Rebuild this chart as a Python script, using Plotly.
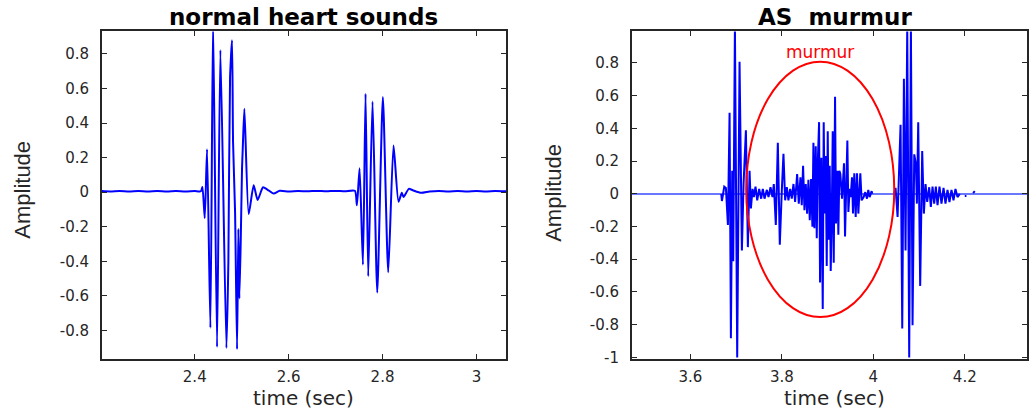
import plotly.graph_objects as go

# ---------------- data ----------------
# normal heart sounds: time (s) and amplitude
normal_t = [2.202, 2.22, 2.24, 2.26, 2.28, 2.30, 2.32, 2.34, 2.36, 2.38, 2.40, 2.413,
            2.4163, 2.4213, 2.4262, 2.4333, 2.4390, 2.4475, 2.4546, 2.4674, 2.4716, 2.4752,
            2.4794, 2.4816, 2.4858, 2.4901, 2.4929, 2.4950, 2.4979, 2.5007, 2.5021, 2.5057,
            2.5149, 2.5255, 2.5340, 2.5454, 2.5546, 2.5681, 2.5809,
            2.60, 2.62, 2.64, 2.66, 2.68, 2.70, 2.72, 2.7411,
            2.7454, 2.7511, 2.7582, 2.7638, 2.7695, 2.7787, 2.7887, 2.8007, 2.8121, 2.8234,
            2.8340, 2.8411, 2.8447, 2.8560, 2.8645, 2.8823,
            2.90, 2.92, 2.94, 2.96, 2.98, 3.00, 3.02, 3.04, 3.063]
normal_a = [0.006, 0.004, 0.007, 0.004, 0.007, 0.004, 0.007, 0.004, 0.006, 0.004, 0.006, 0.005,
            0.030, -0.151, 0.248, -0.785, 1.0, -0.896, 0.823, -0.902, -0.401, 0.664,
            0.879, 0.289, -0.108, -0.908, -0.212, -0.615, -0.287, 0.138, 0.242, 0.482,
            -0.127, 0.040, -0.045, 0.028, 0.015, -0.008, 0.008,
            0.004, 0.007, 0.005, 0.007, 0.005, 0.007, 0.005, 0.008,
            -0.076, 0.138, -0.420, 0.569, -0.486, 0.524, -0.581, 0.550, -0.463, 0.270,
            -0.055, -0.004, -0.028, 0.019, 0.011, -0.004,
            0.004, 0.007, 0.004, 0.007, 0.004, 0.007, 0.004, 0.007, 0.005]

# AS murmur: time (s) and amplitude (None = gap, signal at rest)
as_t = [3.6676, 3.6691, 3.6742, 3.6778, 3.6822, 3.6858, 3.6887, 3.6916, 3.6938, 3.6975,
        3.7025, 3.7047, 3.7076, 3.7127, 3.7164, 3.7215, 3.7258, 3.7295, 3.7324, 3.7360,
        3.7389, 3.7425, 3.7462, 3.7505, 3.7549, 3.7585, 3.7622, 3.7673, 3.7709, 3.7753,
        3.7796, 3.7825, 3.7869, 3.7913, 3.7956, 3.8000, 3.8036, 3.8073, 3.8109, 3.8145,
        3.8182, 3.8218, 3.8255, 3.8291, 3.8335, 3.8371, 3.8407, 3.8436, 3.8465, 3.8495,
        3.8524, 3.8553, 3.8582, 3.8611, 3.8640, 3.8669, 3.8691, 3.8713, 3.8742, 3.8764,
        3.8785, 3.8815, 3.8836, 3.8865, 3.8895, 3.8916, 3.8938, 3.8960, 3.8982, 3.9004,
        3.9025, 3.9047, 3.9069, 3.9091, 3.9113, 3.9135, 3.9164, 3.9185, 3.9215, 3.9236,
        3.9258, 3.9280, 3.9316, 3.9360, 3.9382, 3.9411, 3.9433, 3.9455, 3.9484, 3.9505,
        3.9535, 3.9556, 3.9585, 3.9615, 3.9644, 3.9673, 3.9716, 3.9745, 3.9789, 3.9825,
        3.9862, 3.9891, 3.9920, 3.9964, 3.9978, None,
        4.0458, 4.0487, 4.0531, 4.0596, 4.0633, 4.0669, 4.0705, 4.0742, 4.0785, 4.0822,
        4.0858, 4.0895, 4.0931, 4.0953, 4.0982, 4.1025, 4.1069, 4.1105, 4.1142, 4.1178,
        4.1222, 4.1258, 4.1295, 4.1331, 4.1367, 4.1404, 4.1447, 4.1491, 4.1535, 4.1578,
        4.1622, 4.1665, 4.1709, 4.1753, 4.1796, 4.1840, 4.1891, None,
        4.2000, 4.2036, None, 4.2182, 4.2218]
as_a = [0.0, -0.044, 0.044, 0.036, -0.191, 0.496, -0.884, 0.141, -0.412, 1.025,
        -1.001, -0.221, 0.808, -0.346, 0.060, 0.388, -0.326, 0.141, -0.090, 0.030,
        -0.020, 0.044, -0.040, 0.030, -0.030, 0.030, -0.030, 0.024, -0.020, 0.040,
        -0.020, 0.060, -0.191, 0.312, -0.312, 0.020, 0.245, -0.040, 0.040, -0.040,
        0.030, -0.030, 0.060, -0.050, 0.121, -0.060, 0.101, -0.070, 0.171, -0.101,
        0.060, -0.121, 0.086, -0.161, 0.090, -0.201, 0.312, -0.211, 0.291, -0.271,
        0.181, 0.438, -0.543, 0.221, -0.704, 0.438, -0.121, 0.231, -0.442, 0.382,
        -0.281, 0.171, -0.472, -0.161, 0.382, -0.422, 0.593, -0.181, 0.141, -0.251,
        0.141, 0.121, -0.030, 0.187, -0.261, 0.080, 0.326, -0.111, 0.030, -0.020,
        0.101, -0.121, 0.125, -0.141, 0.125, -0.121, 0.125, -0.040, -0.020, 0.010,
        -0.030, 0.024, -0.020, 0.016, 0.0, None,
        0.0, 0.036, -0.141, 0.422, -0.824, 0.704, -0.346, 1.025, -1.001, 1.025,
        -0.804, 0.241, 0.181, -0.060, 0.438, -0.563, 0.261, -0.121, 0.060, -0.050,
        0.040, -0.080, 0.044, -0.060, 0.044, -0.070, 0.044, -0.060, 0.036, -0.060,
        0.024, -0.050, 0.024, -0.040, 0.030, -0.020, 0.0, None,
        -0.014, -0.014, None, 0.004, 0.016]

# axis ticks
left_xticks = [2.4, 2.6, 2.8, 3.0]
left_xlabels = ["2.4", "2.6", "2.8", "3"]
left_yticks = [-0.8, -0.6, -0.4, -0.2, 0, 0.2, 0.4, 0.6, 0.8]
left_ylabels = ["-0.8", "-0.6", "-0.4", "-0.2", "0", "0.2", "0.4", "0.6", "0.8"]
right_xticks = [3.6, 3.8, 4.0, 4.2]
right_xlabels = ["3.6", "3.8", "4", "4.2"]
right_yticks = [-1, -0.8, -0.6, -0.4, -0.2, 0, 0.2, 0.4, 0.6, 0.8]
right_ylabels = ["-1", "-0.8", "-0.6", "-0.4", "-0.2", "0", "0.2", "0.4", "0.6", "0.8"]

titles = ["normal heart sounds", "AS\u00a0\u00a0murmur"]
murmur_label = "murmur"

# ---------------- figure ----------------
W, H = 1029, 417
BLUE = "#0000ff"
AX = "#262626"
TICKFONT = dict(family="DejaVu Sans", size=15, color=AX)

fig = go.Figure()
fig.add_trace(go.Scatter(x=normal_t, y=normal_a, mode="lines",
                         line=dict(color=BLUE, width=2, shape="spline", smoothing=0.6),
                         xaxis="x", yaxis="y", showlegend=False, hoverinfo="skip"))
fig.add_trace(go.Scatter(x=as_t, y=as_a, mode="lines",
                         line=dict(color=BLUE, width=2),
                         xaxis="x2", yaxis="y2", showlegend=False, hoverinfo="skip",
                         connectgaps=False))

ydom = [(H - 366) / H, (H - 32) / H]
common = dict(showline=True, linecolor=AX, linewidth=1.5, mirror="allticks",
              ticks="inside", ticklen=5, tickwidth=1.2, tickcolor=AX,
              showgrid=False, zeroline=False, tickfont=TICKFONT)
xcommon = dict(common, ticklabelstandoff=3)
ycommon = dict(common, ticklabelstandoff=8)

fig.update_layout(
    width=W, height=H,
    margin=dict(l=0, r=0, t=0, b=0),
    paper_bgcolor="white", plot_bgcolor="white",
    xaxis=dict(domain=[102 / W, 507 / W], range=[2.202, 3.063],
               tickvals=left_xticks, ticktext=left_xlabels, anchor="y", **xcommon),
    yaxis=dict(domain=ydom, range=[-0.965, 0.93],
               tickvals=left_yticks, ticktext=left_ylabels, anchor="x", **ycommon),
    xaxis2=dict(domain=[633 / W, 1.0], range=[3.472, 4.336],
                tickvals=right_xticks, ticktext=right_xlabels, anchor="y2", **xcommon),
    yaxis2=dict(domain=ydom, range=[-1.01, 0.993],
                tickvals=right_yticks, ticktext=right_ylabels, anchor="x2",
                **{**ycommon, "zeroline": True, "zerolinecolor": "#6a78ff",
                   "zerolinewidth": 1.6}),
)

# murmur ellipse
fig.add_shape(type="circle", xref="x2", yref="y2",
              x0=3.884 - 0.1618, x1=3.884 + 0.1618, y0=0.027 - 0.781, y1=0.027 + 0.781,
              line=dict(color="#ff0000", width=2))

ann = []
for xc, t in ((304.5, titles[0]), (836.5, titles[1])):
    ann.append(dict(text="<b>%s</b>" % t, x=xc / W, y=(H - 17) / H,
                    xref="paper", yref="paper", xanchor="center", yanchor="middle",
                    showarrow=False,
                    font=dict(family="DejaVu Sans", size=23, color="black")))
for xc in (304.5, 836.0):
    ann.append(dict(text="time (sec)", x=xc / W, y=(H - 406) / H,
                    xref="paper", yref="paper", xanchor="center", yanchor="middle",
                    showarrow=False,
                    font=dict(family="DejaVu Sans", size=20, color=AX)))
for xc, yc in ((23, 193.5), (555, 196.7)):
    ann.append(dict(text="Amplitude", x=xc / W, y=(H - yc) / H, textangle=-90,
                    xref="paper", yref="paper", xanchor="center", yanchor="middle",
                    showarrow=False,
                    font=dict(family="Liberation Sans", size=22, color=AX)))
ann.append(dict(text=murmur_label, x=3.884, y=0.864, xref="x2", yref="y2",
                xanchor="center", yanchor="middle",
                showarrow=False, font=dict(family="DejaVu Sans", size=17, color="#ff0000")))
fig.update_layout(annotations=ann)

fig.write_html("out.html", config={"displayModeBar": False},
               post_script="document.body.style.margin='0';")
